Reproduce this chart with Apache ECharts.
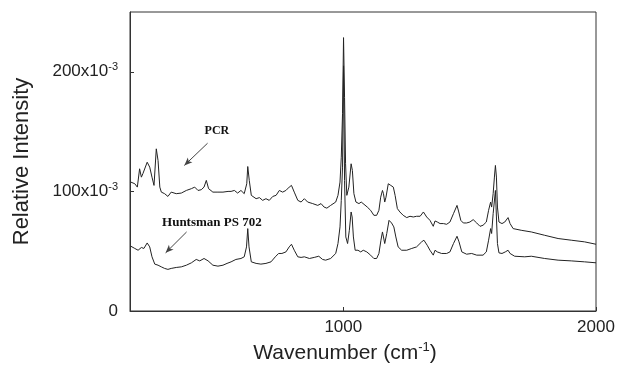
<!DOCTYPE html>
<html>
<head>
<meta charset="utf-8">
<script src="https://cdn.jsdelivr.net/npm/echarts@6/dist/echarts.min.js"></script>
<style>
  html, body { margin: 0; padding: 0; background: #fff; }
  #chart { width: 618px; height: 375px; }
</style>
</head>
<body>
<div id="chart"></div>
<script>
// Raman spectra, intensity in units of 10^-3
const pcrWave = [159, 175, 185, 194, 201, 207, 224, 234, 243, 251, 260, 267, 274, 280, 293, 306, 319, 339, 359, 379,
  399, 412, 425, 438, 449, 458, 467, 484, 504, 524, 544, 556, 569, 582, 595, 608, 618, 622, 628, 636,
  655, 668, 681, 694, 707, 721, 734, 747, 760, 773, 786, 795, 806, 820, 833, 846, 859, 879, 899, 912,
  924, 935, 950, 970, 979, 987, 992, 997, 1001, 1005, 1009, 1014, 1022, 1031, 1036, 1042, 1050, 1062, 1071, 1082,
  1095, 1108, 1121, 1132, 1141, 1148, 1155, 1159, 1164, 1169, 1178, 1188, 1198, 1205, 1214, 1224, 1237, 1251, 1264, 1277,
  1290, 1304, 1317, 1330, 1343, 1356, 1363, 1372, 1383, 1396, 1409, 1422, 1436, 1450, 1457, 1465, 1475, 1488, 1501, 1514,
  1528, 1541, 1553, 1566, 1575, 1583, 1587, 1593, 1598, 1602, 1606, 1610, 1616, 1628, 1639, 1652, 1660, 1672, 1704, 1744,
  1797, 1850, 1902, 1955, 2000]
const pcrIntensity = [107.8, 106.4, 103.6, 118.9, 111.9, 114.8, 124.4, 120.3, 111.9, 105, 135.6, 125.8, 103.6, 99.4, 98.1, 95.8, 99.4, 98.1, 98.6, 100.8,
  102.3, 103.6, 100.8, 101.4, 103.6, 109.2, 102.3, 99.4, 99.4, 99.4, 100, 100, 100.8, 98.6, 100.8, 98.1, 106.4, 120.8, 109.2, 96.7,
  93.9, 94.8, 92.5, 93.9, 92.5, 95.8, 96.7, 100.8, 99.4, 100.8, 103.6, 105, 99.4, 92.5, 91.1, 93.9, 91.1, 89.8, 88.3, 89.8,
  86.9, 86, 88.3, 91.1, 96.7, 107.8, 128.6, 165, 228.6, 178.6, 123.1, 96.7, 103.6, 123.1, 117.5, 98.1, 91.1, 89.8, 91.1, 89.2,
  86.9, 84.2, 80, 80, 84.2, 95.2, 100.8, 98.1, 91.1, 95.2, 106.4, 105, 103.6, 96.7, 85.6, 82.8, 80, 78.1, 79.2, 78.6,
  79.2, 79.2, 82.8, 78.6, 75.8, 70.8, 75.3, 74.4, 73.1, 73.1, 72.5, 74.4, 81.4, 88.3, 82.8, 75.8, 73.6, 73.6, 74.4, 76.4,
  73.6, 70.8, 71.7, 74.4, 84.2, 91.1, 86.9, 98.1, 112, 121.7, 112, 86.9, 74.4, 73.1, 74.4, 78.1, 73.1, 68.9, 67.5, 66.1,
  63.3, 60.6, 59.2, 57.8, 55.8]

const psWave = [159, 175, 188, 201, 211, 224, 234, 243, 254, 267, 280, 293, 306, 319, 339, 359, 379, 399, 418, 432,
  449, 465, 484, 504, 524, 540, 556, 575, 595, 608, 617, 622, 627, 636, 655, 674, 694, 714, 731, 744,
  757, 773, 786, 795, 806, 820, 833, 846, 866, 885, 903, 918, 930, 950, 970, 979, 987, 992, 997, 1001,
  1005, 1010, 1017, 1024, 1031, 1035, 1040, 1047, 1058, 1069, 1079, 1093, 1108, 1121, 1132, 1141, 1149, 1155, 1159, 1164,
  1172, 1181, 1191, 1200, 1208, 1217, 1231, 1251, 1271, 1290, 1310, 1319, 1332, 1343, 1356, 1363, 1372, 1389, 1409, 1422,
  1436, 1450, 1458, 1469, 1488, 1508, 1528, 1541, 1553, 1566, 1575, 1583, 1587, 1593, 1602, 1606, 1610, 1616, 1628, 1641,
  1652, 1660, 1678, 1718, 1744, 1797, 1850, 1902, 1955, 2000]
const psIntensity = [54.2, 52.3, 50.8, 53.1, 52.3, 56.9, 53.6, 45.3, 39.2, 38.3, 36.9, 35.6, 34.8, 35.6, 36.4, 36.9, 38.3, 40.3, 43.1, 41.9,
  43.9, 41.9, 38.3, 37.5, 38.3, 39.8, 41.1, 43.1, 43.9, 45.3, 53.6, 68.9, 53.6, 41.1, 39.8, 39.2, 39.8, 41.1, 45.3, 48.1,
  48.1, 49.4, 53.6, 55.8, 50.8, 45.3, 44.8, 45.3, 43.9, 44.8, 45.8, 43.1, 42.5, 43.9, 48.1, 56.4, 70.3, 92.5, 120.3, 205,
  109.2, 61.9, 56.4, 67.5, 82.8, 78.6, 61.9, 50.8, 50.8, 49.4, 50.8, 49.4, 46.7, 43.9, 43.9, 48.1, 59.2, 66.1, 61.9, 56.4,
  64.8, 75.8, 73.6, 70.3, 61.9, 53.6, 50.8, 50.8, 52.3, 53.6, 57.8, 59.2, 55, 50.8, 46.7, 50.8, 49.4, 48.1, 48.1, 49.4,
  56.4, 62.5, 57.8, 49.4, 47.5, 48.1, 46.7, 46.7, 46.7, 49.4, 59.2, 68.9, 64.8, 81.4, 100.8, 78.6, 56.4, 48.6, 48.1, 49.4,
  50.8, 48.1, 45.8, 45.3, 45.8, 43.9, 42.5, 41.9, 41.1, 40.3]

const xTicks = [1000, 2000]

// annotation labels and arrows (data coords: [wavenumber, intensity])
const pcrLabel = { text: 'PCR', at: [500, 150.8], arrowFrom: [463, 140.3], arrowTo: [371, 121.7] }
const psLabel = { text: 'Huntsman PS 702', at: [480, 74.2], arrowFrom: [380, 66.1], arrowTo: [297, 48.6] }

const lineColor = '#222'
const sansFont = 'Liberation Sans, Arial, sans-serif'
const serifFont = 'Liberation Serif, Times New Roman, serif'

function pairs(xs, ys) {
  return xs.map((x, i) => [x, ys[i]])
}

function annotation(lbl, fontSize) {
  return {
    markLine: {
      silent: true,
      symbol: ['none', 'arrow'],
      symbolSize: [5, 8],
      label: { show: false },
      lineStyle: { color: '#444', width: 1, type: 'solid' },
      data: [[{ coord: lbl.arrowFrom }, { coord: lbl.arrowTo }]],
    },
    markPoint: {
      silent: true,
      symbol: 'circle',
      symbolSize: 1,
      itemStyle: { color: 'rgba(0,0,0,0)' },
      label: {
        show: true,
        position: 'inside',
        formatter: lbl.text,
        color: '#111',
        fontFamily: serifFont,
        fontWeight: 'bold',
        fontSize: fontSize,
      },
      data: [{ coord: lbl.at }],
    },
  }
}

const chart = echarts.init(document.getElementById('chart'))

const supRich = {
  base: { fontSize: 17, fontFamily: sansFont, color: lineColor },
  sup: { fontSize: 11, fontFamily: sansFont, color: lineColor, padding: [0, 0, 9, 0] },
}

chart.setOption({
  animation: false,
  grid: {
    left: 130, right: 22, top: 12, bottom: 64,
    show: true, borderColor: '#333', borderWidth: 1,
  },
  xAxis: {
    type: 'value',
    min: 156,
    max: 2000,
    name: 'Wavenumber (cm{sup|-1})',
    nameLocation: 'middle',
    nameGap: 27,
    nameTextStyle: {
      fontFamily: sansFont, fontSize: 21, color: lineColor,
      padding: [0, 36, 0, 0],
      rich: {
        sup: { fontFamily: sansFont, fontSize: 13, color: lineColor, padding: [0, 0, 11, 0] },
      },
    },
    axisLine: { lineStyle: { color: '#333', width: 1 } },
    axisTick: { inside: true, length: 4, lineStyle: { color: '#333' }, customValues: xTicks },
    axisLabel: {
      fontFamily: sansFont, fontSize: 17, color: lineColor, margin: 8,
      customValues: xTicks,
      formatter: (val) => String(val),
    },
    splitLine: { show: false },
  },
  yAxis: {
    type: 'value',
    min: 0,
    max: 250,
    interval: 100,
    name: 'Relative Intensity',
    nameLocation: 'middle',
    nameGap: 97,
    nameTextStyle: { fontFamily: sansFont, fontSize: 22, color: lineColor },
    axisLine: { show: true, lineStyle: { color: '#333', width: 1 } },
    axisTick: { show: true, inside: true, length: 4, lineStyle: { color: '#333' } },
    axisLabel: {
      margin: 12,
      showMaxLabel: false,
      formatter: (val) => (val === 0 ? '{base|0}' : `{base|${val}x10}{sup|-3}`),
      rich: supRich,
    },
    splitLine: { show: false },
  },
  series: [
    Object.assign({
      name: 'PCR',
      type: 'line',
      data: pairs(pcrWave, pcrIntensity),
      symbol: 'none',
      lineStyle: { width: 1, color: lineColor },
      itemStyle: { color: lineColor },
    }, annotation(pcrLabel, 12)),
    Object.assign({
      name: 'Huntsman PS 702',
      type: 'line',
      data: pairs(psWave, psIntensity),
      symbol: 'none',
      lineStyle: { width: 1, color: lineColor },
      itemStyle: { color: lineColor },
    }, annotation(psLabel, 13)),
  ],
})
</script>
</body>
</html>
